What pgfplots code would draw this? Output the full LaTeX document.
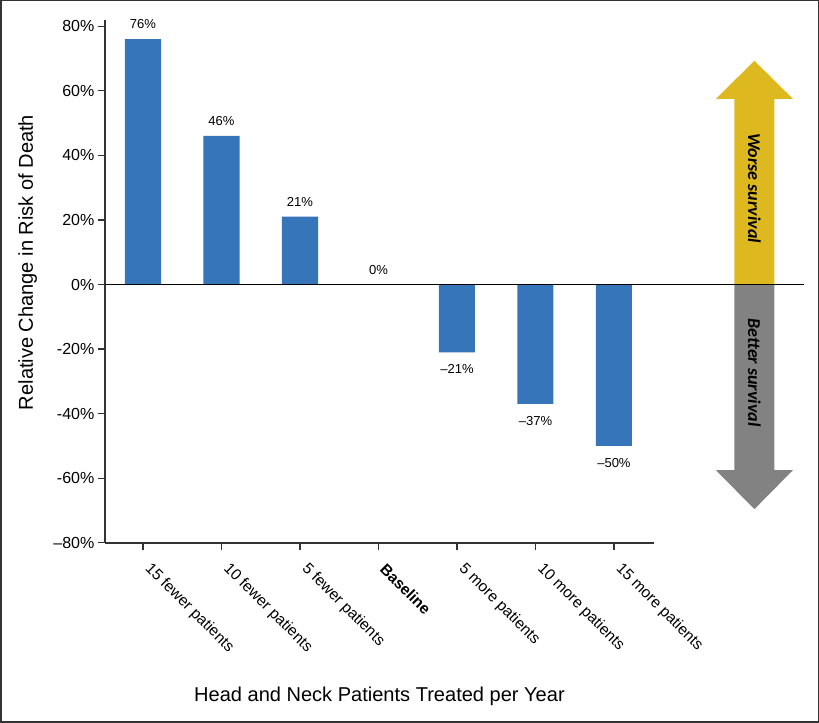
\documentclass[border=0pt]{standalone}
\usepackage{pgfplots}
\pgfplotsset{compat=1.18}
\usepackage{fontspec}
\setmainfont{Liberation Sans}
\newfontfamily\arrowfont{Carlito}
\definecolor{barblue}{HTML}{3675BA}
\definecolor{arrowyellow}{HTML}{DDB81E}
\definecolor{arrowgray}{HTML}{828282}
\definecolor{axisgray}{HTML}{333333}
\begin{document}
\begin{tikzpicture}
\begin{axis}[
  scale only axis, width=548pt, height=522pt,
  xmin=-0.485, xmax=6.51, ymin=-80, ymax=82,
  axis x line*=bottom, axis y line*=left,
  axis line style={line width=1.6pt, color=axisgray},
  tick align=outside, major tick length=7pt,
  tick style={line width=1.2pt, color=axisgray},
  clip=false,
  ybar, bar width=36pt, bar shift=0pt,
  xtick={0,...,6},
  xticklabels={15 fewer patients, 10 fewer patients, 5 fewer patients, \textbf{Baseline}, 5 more patients, 10 more patients, 15 more patients},
  xticklabel style={yshift=-14pt, xshift=2pt, rotate=-45, anchor=west, font=\fontsize{15.5}{17}\selectfont},
  ytick={-80,-60,...,80},
  yticklabels={--80\%,-60\%,-40\%,-20\%,0\%,20\%,40\%,60\%,80\%},
  yticklabel style={font=\fontsize{16}{18}\selectfont},
  every axis y label/.style={at={(rel axis cs:0,0.536)}, xshift=-77pt, rotate=90, anchor=center, font=\fontsize{20}{24}\selectfont},
  every axis x label/.style={at={(rel axis cs:0.5,0)}, anchor=center, yshift=-153pt, font=\fontsize{20}{24}\selectfont},
  ylabel={Relative Change in Risk of Death},
  xlabel={Head and Neck Patients Treated per Year},
  nodes near coords, point meta=explicit symbolic,
  every node near coord/.append style={font=\fontsize{13}{15}\selectfont, color=black, inner sep=4pt},
]
\addplot[fill=barblue, draw=none,
  every node near coord/.append style={anchor=south, yshift=6pt}] coordinates {
  (0,76) [76\%]
  (1,46) [46\%]
  (2,21) [21\%]
  (3,0) [0\%]
};
\addplot[fill=barblue, draw=none,
  every node near coord/.append style={anchor=north, yshift=-8pt}] coordinates {
  (4,-21) [--21\%]
  (5,-37) [--37\%]
  (6,-50) [--50\%]
};
% survival arrows
\fill[arrowyellow] (axis cs:7.535,0) -- (axis cs:7.535,57.5) -- (axis cs:7.299,57.5) -- (axis cs:7.79,69.3)
  -- (axis cs:8.281,57.5) -- (axis cs:8.045,57.5) -- (axis cs:8.045,0) -- cycle;
\fill[arrowgray] (axis cs:7.535,0) -- (axis cs:7.535,-57.5) -- (axis cs:7.299,-57.5) -- (axis cs:7.79,-69.6)
  -- (axis cs:8.281,-57.5) -- (axis cs:8.045,-57.5) -- (axis cs:8.045,0) -- cycle;
\node[rotate=-90, font=\arrowfont\bfseries\itshape\fontsize{18}{20}\selectfont] at (axis cs:7.79,29.8) {Worse survival};
\node[rotate=-90, font=\arrowfont\bfseries\itshape\fontsize{18}{20}\selectfont] at (axis cs:7.79,-27.3) {Better survival};
\draw[line width=1.2pt, black] (axis cs:-0.485,0) -- (axis cs:8.42,0);
\end{axis}
\draw[line width=1.5pt, color=axisgray] ([xshift=-104pt,yshift=-179pt]current axis.south west) rectangle ([xshift=164pt,yshift=19pt]current axis.north east);
\end{tikzpicture}
\end{document}
